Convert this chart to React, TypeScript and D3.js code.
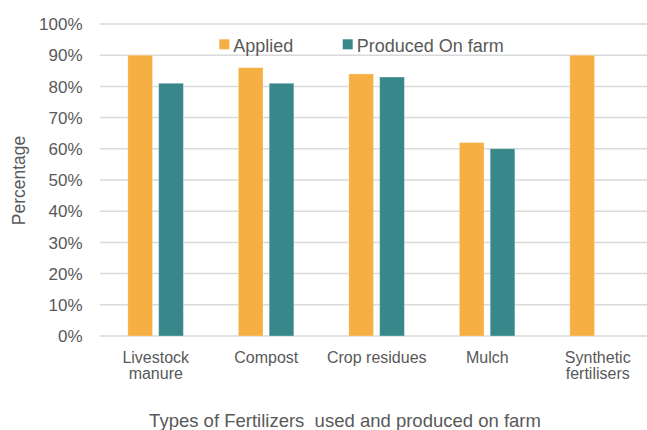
import React from "react";
import * as d3 from "d3";

// Fertilizer types on the x axis (multi-line labels split by "\n")
const categories = ["Livestock\nmanure", "Compost", "Crop residues", "Mulch", "Synthetic\nfertilisers"];
const seriesNames = ["Applied", "Produced On farm"];
const applied = [90, 86, 84, 62, 90];
const producedOnFarm = [81, 81, 83, 60, 0];
const yTicks = [0, 10, 20, 30, 40, 50, 60, 70, 80, 90, 100];

const WIDTH = 647;
const HEIGHT = 430;
const COLORS = ["#F5AF42", "#37878B"];
const TEXT = "#595959";
const GRID = "#D9D9D9";
const FONT = "'Liberation Sans', Arial, sans-serif";

export default function App() {
  const x0 = d3.scaleBand<string>().domain(categories).range([100.5, 653]).padding(0);
  const x1 = d3.scaleBand<string>().domain(seriesNames).range([0, 55.5]).paddingInner(0.2);
  const y = d3.scaleLinear().domain([0, 100]).range([336, 24]);

  const series = [applied, producedOnFarm];

  return (
    <svg
      width={WIDTH}
      height={HEIGHT}
      style={{ position: "absolute", left: 0, top: 0, background: "#fff" }}
      fontFamily={FONT}
    >
      {/* horizontal gridlines */}
      {yTicks.map((t) => (
        <line key={`g${t}`} x1={100} x2={WIDTH} y1={y(t)} y2={y(t)} stroke={GRID} strokeWidth={1.5} />
      ))}

      {/* y tick labels */}
      {yTicks.map((t) => (
        <text
          key={`yl${t}`}
          x={82.5}
          y={y(t)}
          dy="0.36em"
          textAnchor="end"
          fontSize={17}
          fill={TEXT}
        >
          {`${t}%`}
        </text>
      ))}

      {/* bars */}
      {categories.map((c, i) => {
        const center = (x0(c) ?? 0) + x0.bandwidth() / 2;
        const groupLeft = center - 27.9;
        return seriesNames.map((s, k) => {
          const v = series[k][i];
          if (!v) return null;
          return (
            <rect
              key={`${c}-${s}`}
              x={groupLeft + (x1(s) ?? 0)}
              y={y(v)}
              width={x1.bandwidth()}
              height={y(0) - y(v)}
              fill={COLORS[k]}
              stroke="#ffffff"
              strokeOpacity={0.35}
              strokeWidth={0.8}
            />
          );
        });
      })}

      {/* x tick labels */}
      {categories.map((c) => {
        const center = (x0(c) ?? 0) + x0.bandwidth() / 2;
        const lines = c.split("\n");
        return (
          <text key={`xl${c}`} textAnchor="middle" fontSize={16} fill={TEXT}>
            {lines.map((ln, j) => (
              <tspan key={j} x={center} y={362.5 + j * 16.5}>
                {ln}
              </tspan>
            ))}
          </text>
        );
      })}

      {/* legend */}
      {seriesNames.map((s, k) => {
        const lx = [219.3, 342.7][k];
        return (
          <g key={`lg${s}`}>
            <rect x={lx} y={39.3} width={10} height={10} fill={COLORS[k]} />
            <text x={lx + 14} y={51.5} fontSize={18} fill={TEXT}>
              {s}
            </text>
          </g>
        );
      })}

      {/* axis titles */}
      <text
        transform="translate(25,180.5) rotate(-90)"
        textAnchor="middle"
        fontSize={17.5}
        fill={TEXT}
      >
        Percentage
      </text>
      <text
        x={345}
        y={426.5}
        textAnchor="middle"
        fontSize={18.5}
        fill={TEXT}
        style={{ whiteSpace: "pre" }}
      >
        {"Types of Fertilizers  used and produced on farm"}
      </text>
    </svg>
  );
}
